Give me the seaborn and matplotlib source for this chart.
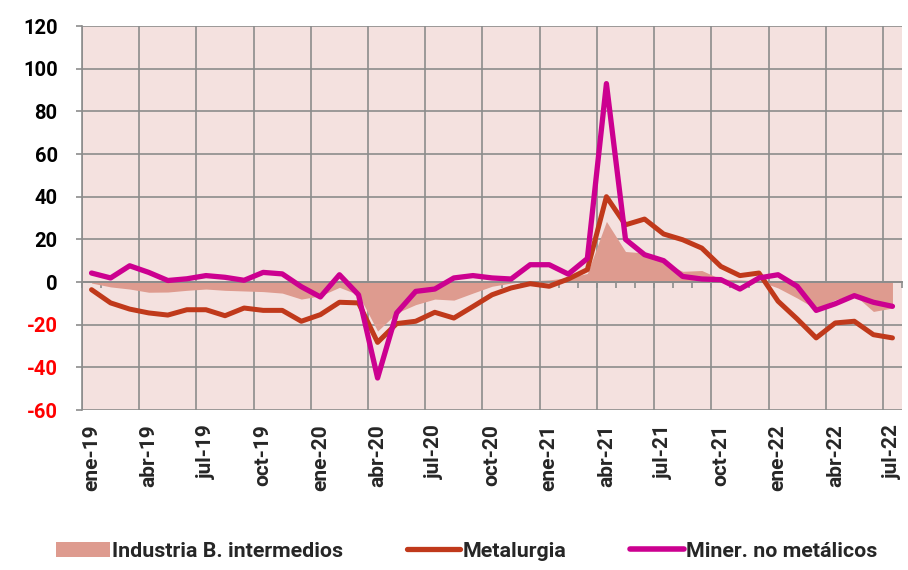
import numpy as np
import pandas as pd
import matplotlib
matplotlib.use("Agg")
import matplotlib.pyplot as plt
import seaborn as sns
from matplotlib.patches import Patch
from matplotlib.lines import Line2D
from matplotlib.ticker import FixedLocator, FuncFormatter

# ---------------- data ----------------
months = ["ene-19", "feb-19", "mar-19", "abr-19", "may-19", "jun-19", "jul-19", "ago-19",
          "sep-19", "oct-19", "nov-19", "dic-19", "ene-20", "feb-20", "mar-20", "abr-20",
          "may-20", "jun-20", "jul-20", "ago-20", "sep-20", "oct-20", "nov-20", "dic-20",
          "ene-21", "feb-21", "mar-21", "abr-21", "may-21", "jun-21", "jul-21", "ago-21",
          "sep-21", "oct-21", "nov-21", "dic-21", "ene-22", "feb-22", "mar-22", "abr-22",
          "may-22", "jun-22", "jul-22"]

industria = [-0.5, -2.3, -3.3, -4.8, -4.7, -3.9, -3.3, -3.9, -4.2, -4.5, -5.2, -8.0,
             -6.5, -2.5, -6.0, -23.0, -14.5, -10.6, -8.0, -8.5, -5.2, -2.0, -0.5, 0.5,
             1.0, 2.0, 4.0, 28.4, 14.3, 13.6, 8.9, 5.0, 5.4, 1.4, 1.0, 0.5,
             -2.8, -7.5, -12.7, -8.3, -6.0, -13.8, -12.2]

metalurgia = [-3.6, -9.8, -12.7, -14.5, -15.5, -13.0, -13.0, -15.8, -12.2, -13.3, -13.3, -18.4,
              -15.3, -9.5, -9.8, -28.3, -19.5, -18.4, -14.2, -16.9, -11.5, -6.0, -2.8, -0.8,
              -2.0, 1.4, 5.8, 40.0, 26.8, 29.5, 22.5, 19.8, 15.9, 7.3, 3.0, 4.2,
              -9.0, -17.3, -26.2, -19.2, -18.4, -24.7, -26.2]

miner = [4.2, 1.9, 7.6, 4.5, 0.7, 1.5, 3.0, 2.2, 0.8, 4.5, 3.8, -2.2,
         -7.0, 3.4, -6.0, -45.0, -14.5, -4.4, -3.3, 1.9, 3.0, 1.9, 1.4, 8.1,
         8.1, 3.7, 11.0, 93.0, 20.0, 12.8, 10.0, 2.6, 1.4, 1.1, -3.3, 1.9,
         3.4, -2.0, -13.3, -10.2, -6.4, -9.5, -11.4]

series_names = ["Industria B. intermedios", "Metalurgia", "Miner. no metálicos"]
label_months = months[::3]
y_ticks = [-60, -40, -20, 0, 20, 40, 60, 80, 100, 120]

# ---------------- style ----------------
sns.set_theme(style="white")
plt.rcParams["font.family"] = ["Roboto", "DejaVu Sans"]
plt.rcParams["font.weight"] = "bold"

C_AREA = "#DE9B8F"
C_MET = "#C0391B"
C_MIN = "#CC0090"
C_GRID = "#8C8C8C"
C_BG = "#F4E1DF"

df = pd.DataFrame({"idx": np.arange(len(months)), "mes": months,
                   "industria": industria, "metalurgia": metalurgia, "miner": miner})

fig = plt.figure(figsize=(9.08, 5.70), dpi=100)
ax = fig.add_axes([82 / 908, 1 - 410 / 570, 820 / 908, 384 / 570])
ax.set_facecolor(C_BG)

ax.fill_between(df["idx"], 0, df["industria"], color=C_AREA, lw=0, zorder=2)
sns.lineplot(data=df, x="idx", y="metalurgia", ax=ax, color=C_MET, lw=3.6,
             solid_joinstyle="round", solid_capstyle="round", zorder=4)
sns.lineplot(data=df, x="idx", y="miner", ax=ax, color=C_MIN, lw=3.8,
             solid_joinstyle="round", solid_capstyle="round", zorder=5)

ax.set_xlim(-0.5, len(months) - 0.5)
ax.set_ylim(-60, 120)
ax.set_xlabel("")
ax.set_ylabel("")

# grid
ax.xaxis.set_major_locator(FixedLocator(np.arange(-0.5, len(months) - 0.5, 3)))
ax.xaxis.set_minor_locator(FixedLocator(np.arange(-0.5, len(months) + 0.5, 1)))
ax.yaxis.set_major_locator(FixedLocator(y_ticks))
ax.grid(True, which="major", color=C_GRID, lw=1.2, zorder=1)
ax.set_axisbelow(True)

for s in ["top", "right"]:
    ax.spines[s].set_visible(False)
ax.spines["left"].set_color(C_GRID)
ax.spines["left"].set_linewidth(1.2)
ax.spines["bottom"].set_position(("data", 0))
ax.spines["bottom"].set_color(C_GRID)
ax.spines["bottom"].set_linewidth(1.4)
ax.spines["bottom"].set_zorder(3)

ax.tick_params(axis="x", which="both", direction="out", bottom=True, labelbottom=False,
               color=C_GRID, width=1.2)
ax.tick_params(axis="x", which="major", length=4)
ax.tick_params(axis="x", which="minor", length=4)

ax.tick_params(axis="y", which="major", direction="out", left=True, length=4.5,
               color=C_GRID, width=1.2, pad=13, labelsize=14.5)
ax.yaxis.set_major_formatter(FuncFormatter(lambda v, p: f"{int(v)}"))
for lab, v in zip(ax.get_yticklabels(), y_ticks):
    lab.set_fontweight("bold")
    lab.set_color("#FF0000" if v < 0 else "#000000")

# category labels at the bottom
sec = ax.secondary_xaxis("bottom")
sec.set_xticks(np.arange(0, len(months), 3))
sec.set_xticklabels(label_months, rotation=90, fontsize=15, fontweight="bold")
sec.tick_params(axis="x", length=0, pad=10)
sec.spines["bottom"].set_visible(False)

# legend
handles = [Patch(facecolor=C_AREA, edgecolor="none"),
           Line2D([], [], color=C_MET, lw=3.8, solid_capstyle="round"),
           Line2D([], [], color=C_MIN, lw=4.0, solid_capstyle="round")]
fig.legend(handles, series_names, loc="center", bbox_to_anchor=(0.514, 0.033),
           ncol=3, frameon=False, handlelength=2.5, handletextpad=0.1,
           columnspacing=3.0, prop={"family": "Roboto", "weight": "bold", "size": 15.4})

fig.savefig("out.png", dpi=100)
